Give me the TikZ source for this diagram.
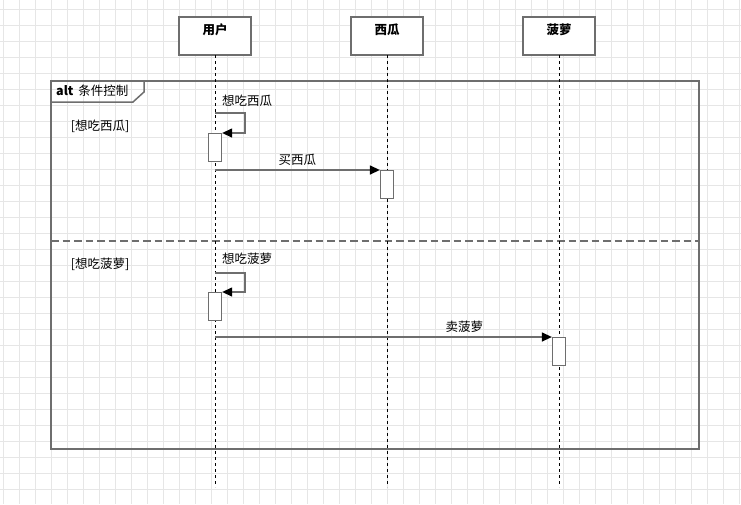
\documentclass[tikz,border=0pt]{standalone}
\usepackage{fontspec}
\setmainfont{Noto Sans CJK SC}
\usetikzlibrary{positioning,arrows.meta}
\definecolor{edgegray}{HTML}{6E6E6E}
\definecolor{gridgray}{HTML}{E6E6E6}
\tikzset{
	head/.style={rectangle, draw=edgegray, line width=1.5pt, fill=white, minimum width=72pt, minimum height=38pt, outer sep=0pt, text height=11pt, text depth=14pt, font=\fontsize{12.5}{14}\selectfont\bfseries, node distance=100pt},
	act/.style={rectangle, draw=edgegray, line width=1.3pt, fill=white, minimum width=13pt, minimum height=28pt, inner sep=0pt, anchor=north},
	life/.style={black, dash pattern=on 3pt off 3pt, line width=1pt},
	msg/.style={draw=edgegray, line width=1.3pt, -{Triangle[length=10pt,width=9pt,color=black]}},
	frameline/.style={draw=edgegray, line width=1.5pt},
	divider/.style={draw=edgegray, line width=1.5pt, dash pattern=on 7.5pt off 4pt},
	gridline/.style={gridgray, line width=0.8pt},
	txt/.style={inner sep=0pt}
}

\begin{document}
\begin{tikzpicture}[x=1pt, y=-1pt, font=\fontsize{12.5}{14}\selectfont]
\useasboundingbox (0,0) rectangle (741,504);
\fill[white] (0,0) rectangle (741,504);
% background grid
\foreach \gx in {3,19,...,739} \draw[gridline] (\gx,0) -- (\gx,504);
\foreach \gy in {9,25,...,505} \draw[gridline] (0,\gy) -- (741,\gy);

% alt frame
\draw[frameline] (51,81) rectangle (699,449);
\draw[frameline] (51,102) -- (133,102) -- (144,92) -- (144,81);
\node[txt, anchor=west] (AltLab) at (56,91) {\textbf{alt}\hspace{5pt}条件控制};
\draw[divider] (51,241) -- (699,241);
\node[txt] (Guard1) at (100,126) {[想吃西瓜]};
\node[txt] (Guard2) at (100,264) {[想吃菠萝]};

% lifelines
\node[head] (User) at (215,36) {用户};
\node[head] (Melon) [right=of User] {西瓜};
\node[head] (Pine) [right=of Melon] {菠萝};
\coordinate (UserEnd) at (User |- 0,487);
\coordinate (MelonEnd) at (Melon |- 0,487);
\coordinate (PineEnd) at (Pine |- 0,487);
\draw[life] (User.south) -- (UserEnd);
\draw[life] (Melon.south) -- (MelonEnd);
\draw[life] (Pine.south) -- (PineEnd);

% activations
\node[act] (Act1) at (User |- 0,133) {};
\node[act] (Act2) at (Melon |- 0,170) {};
\node[act] (Act3) at (User |- 0,292) {};
\node[act] (Act4) at (Pine |- 0,337) {};

% messages
\coordinate (Self1) at (User |- 0,113);
\coordinate (Self2) at (User |- 0,273);
\draw[msg] (Self1) -- ++(30,0) |- (Act1.north east);
\node[txt, anchor=west] (SelfLab1) at (222,101) {想吃西瓜};
\draw[msg] (User |- Act2.north west) -- node[above] (MsgLab1) {买西瓜} (Act2.north west);
\draw[msg] (Self2) -- ++(30,0) |- (Act3.north east);
\node[txt, anchor=west] (SelfLab2) at (222,259) {想吃菠萝};
\draw[msg] (User |- Act4.north west) -- node[above, pos=0.74] (MsgLab2) {卖菠萝} (Act4.north west);
\end{tikzpicture}
\end{document}
